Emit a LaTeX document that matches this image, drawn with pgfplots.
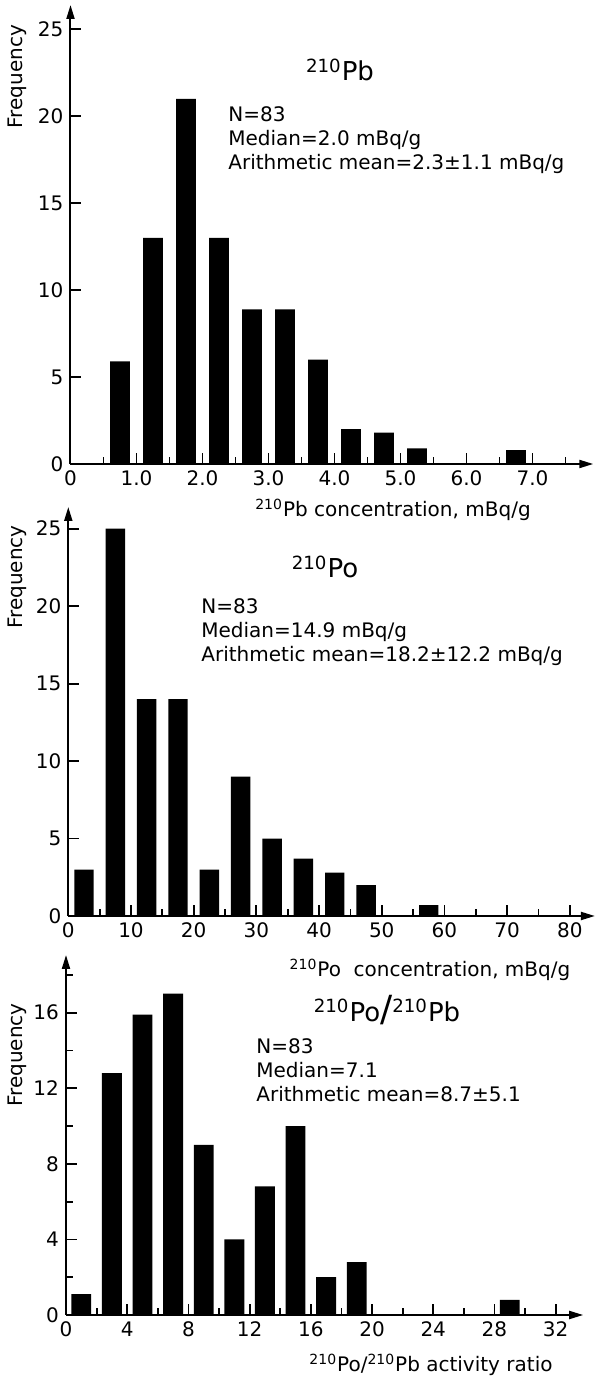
\documentclass[border=0pt]{standalone}
\usepackage{fontspec}
\setmainfont{DejaVu Sans}
\usepackage{pgfplots}
\pgfplotsset{compat=1.18}
\usetikzlibrary{arrows.meta}

\pgfplotsset{
  histo/.style={
    scale only axis, anchor=south west,
    axis lines*=left,
    axis line style={line width=1pt},
    x axis line style={-{Triangle[length=7pt,width=4pt]}},
    y axis line style={-{Triangle[length=7pt,width=4pt]}},
    tick align=inside,
    major tick length=5.5pt, minor tick length=3.5pt,
    every tick/.style={black, line width=0.9pt},
    xmin=0, ymin=0, enlargelimits=false,
    tick label style={font=\fontsize{10}{11}\selectfont},
    /pgf/number format/assume math mode=true,
  },
  bars/.style={ybar, fill=black, draw=none},
}

\begin{document}
\begin{tikzpicture}[font=\fontsize{10}{12}\selectfont]
% 210Pb
\begin{axis}[histo, at={(35.25pt,457pt)}, width=261.4pt, height=229.5pt,
  xmax=7.92, ymax=26.4,
  xtick={0,1,...,7}, xticklabels={0,1.0,2.0,3.0,4.0,5.0,6.0,7.0},
  minor xtick={0.5,1.5,...,7.5}, ytick={0,5,...,25}]
\addplot[bars, bar width=0.3] coordinates {(0.75,5.9) (1.25,13) (1.75,21) (2.25,13)
  (2.75,8.9) (3.25,8.9) (3.75,6) (4.25,2) (4.75,1.8) (5.25,0.9) (6.75,0.8)};
\end{axis}
% 210Po
\begin{axis}[histo, at={(34.15pt,231pt)}, width=263.3pt, height=204.5pt,
  xmax=84, ymax=26.4,
  xtick={0,10,...,80}, minor xtick={5,15,...,75}, ytick={0,5,...,25}]
\addplot[bars, bar width=3.1] coordinates {(2.5,3) (7.5,25) (12.5,14) (17.5,14)
  (22.5,3) (27.5,9) (32.5,5) (37.5,3.7) (42.5,2.8) (47.5,2) (57.5,0.7)};
\end{axis}
% ratio
\begin{axis}[histo, at={(33pt,31.5pt)}, width=258.6pt, height=180pt,
  xmax=33.8, ymax=19.05,
  xtick={0,4,...,32}, minor xtick={2,6,...,30},
  ytick={0,4,...,16}, minor ytick={2,6,...,18}]
\addplot[bars, bar width=1.3] coordinates {(1,1.1) (3,12.8) (5,15.9) (7,17) (9,9)
  (11,4) (13,6.8) (15,10) (17,2) (19,2.8) (29,0.8)};
\end{axis}

\node[rotate=90] at (8.5pt,650.75pt) {Frequency};
\node at (170pt,654pt) {\fontsize{13}{13}\selectfont\textsuperscript{210}Pb};
\node[anchor=north west, align=left, inner sep=0pt] at (114pt,636pt)
  {N=83\\Median=2.0 mBq/g\\Arithmetic mean=2.3±1.1 mBq/g};
\node at (196.5pt,434pt) {\textsuperscript{210}Pb concentration, mBq/g};

\node[rotate=90] at (8.5pt,400.5pt) {Frequency};
\node at (162.5pt,405.5pt) {\fontsize{13}{13}\selectfont\textsuperscript{210}Po};
\node[anchor=north west, align=left, inner sep=0pt] at (100.5pt,390pt)
  {N=83\\Median=14.9 mBq/g\\Arithmetic mean=18.2±12.2 mBq/g};
\node at (215pt,204pt) {\textsuperscript{210}Po\ \ concentration, mBq/g};

\node[rotate=90] at (8.5pt,161.5pt) {Frequency};
\node at (193.5pt,184pt) {\fontsize{13}{13}\selectfont\textsuperscript{210}Po{\fontsize{18}{18}\selectfont/}\textsuperscript{210}Pb};
\node[anchor=north west, align=left, inner sep=0pt] at (128pt,170pt)
  {N=83\\Median=7.1\\Arithmetic mean=8.7±5.1};
\node at (215.5pt,6.5pt) {\textsuperscript{210}Po/\textsuperscript{210}Pb activity ratio};

\pgfresetboundingbox
\path[use as bounding box] (0,0) rectangle (300pt,689pt);
\end{tikzpicture}
\end{document}
